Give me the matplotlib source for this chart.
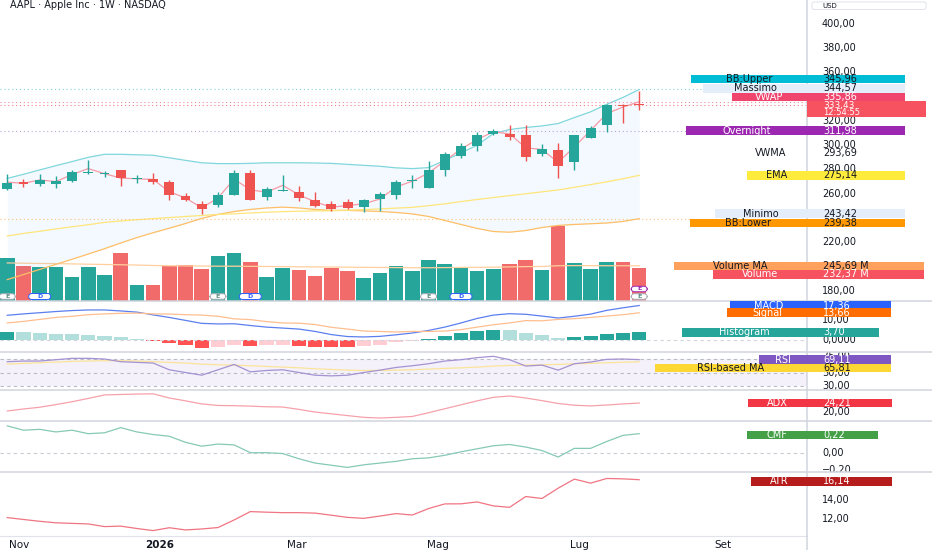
import matplotlib
matplotlib.use("Agg")
import matplotlib.pyplot as plt
import matplotlib.dates as mdates
from matplotlib.patches import Rectangle, FancyBboxPatch
from matplotlib.lines import Line2D
from matplotlib.transforms import IdentityTransform, blended_transform_factory
import numpy as np
import pandas as pd

# weekly AAPL bars
dates = pd.date_range("2025-10-27", periods=40, freq="7D")
opens = [264.2, 270.0, 268.3, 267.8, 270.5, 277.0, 276.0, 279.3, 272.0, 271.9,
         269.7, 258.4, 251.8, 250.4, 259.2, 277.1, 257.3, 262.5, 261.4, 254.5,
         251.1, 252.8, 248.9, 255.8, 258.6, 270.6, 264.9, 279.3, 290.8, 299.4,
         309.0, 309.6, 308.2, 293.0, 296.4, 286.2, 306.3, 316.5, 333.0, 334.2]
highs = [276.6, 272.4, 276.0, 274.4, 279.3, 287.6, 278.8, 279.3, 275.2, 277.1,
         271.1, 260.9, 254.0, 261.4, 279.9, 279.3, 265.6, 275.5, 266.1, 261.4,
         253.9, 255.8, 255.6, 261.3, 271.5, 275.1, 286.7, 294.4, 301.9, 311.0,
         313.7, 316.5, 316.5, 301.3, 301.9, 308.8, 315.9, 334.4, 333.8, 344.57]
lows = [262.8, 265.6, 266.7, 265.0, 270.0, 276.5, 274.0, 266.4, 269.1, 268.3,
        255.1, 254.0, 243.42, 249.0, 258.7, 255.1, 254.5, 262.0, 254.0, 249.0,
        245.6, 247.0, 244.8, 245.6, 255.8, 264.9, 264.5, 274.3, 289.5, 295.0,
        308.2, 304.6, 287.0, 290.8, 273.2, 279.3, 305.8, 311.0, 318.4, 329.4]
closes = [269.1, 267.8, 271.3, 270.5, 278.0, 278.0, 276.8, 273.0, 272.6, 269.7,
          258.7, 254.5, 247.4, 258.7, 277.4, 255.1, 263.6, 263.3, 256.8, 249.6,
          247.0, 248.1, 255.0, 260.0, 269.6, 271.0, 279.3, 292.5, 299.1, 308.2,
          311.5, 306.8, 290.3, 297.2, 282.6, 308.2, 314.5, 333.0, 332.0, 333.43]
volumes = [298, 246, 237, 239, 169, 239, 181, 338, 108, 113,
           242, 249, 221, 313, 338, 272, 169, 228, 216, 176,
           228, 209, 162, 197, 244, 207, 287, 258, 235, 207,
           223, 260, 289, 218, 528, 263, 225, 275, 270, 232.37]  # millions
vol_ma = [266, 264, 262, 261, 259, 257, 255, 253, 251, 248,
          246, 245, 244, 243, 243, 242, 241, 240, 239, 238,
          237, 236, 235, 234, 233, 232, 232, 233, 234, 235,
          236, 238, 240, 241, 246, 247, 247, 246, 246, 245.69]
bb_upper = [272.6, 276.0, 279.6, 283.1, 286.5, 290.0, 292.5, 292.5, 292.1, 291.7,
            289.6, 287.5, 285.5, 284.8, 284.8, 285.0, 285.5, 285.5, 285.5, 285.3,
            285.0, 284.2, 283.4, 282.6, 281.3, 280.7, 281.5, 287.5, 293.6, 300.0,
            309.6, 312.9, 314.6, 315.9, 317.9, 322.8, 327.5, 333.8, 339.4, 345.96]
bb_lower = [189.1, 193.3, 197.5, 201.7, 205.9, 210.2, 214.6, 219.3, 223.8, 227.8,
            231.5, 235.4, 239.6, 242.9, 245.3, 247.0, 248.2, 248.9, 248.2, 247.0,
            246.2, 246.2, 245.8, 245.3, 244.5, 243.3, 241.2, 237.9, 234.6, 231.3,
            228.8, 228.2, 229.6, 232.1, 233.8, 234.6, 235.2, 235.8, 237.1, 239.38]
ema = [225.1, 227.2, 229.0, 230.9, 232.7, 234.4, 236.3, 237.5, 238.5, 239.4,
       240.3, 241.2, 242.0, 242.9, 243.4, 244.1, 244.7, 245.2, 245.5, 245.8,
       245.9, 246.4, 246.8, 247.4, 248.1, 248.7, 250.1, 251.6, 253.5, 255.2,
       256.8, 258.4, 259.9, 261.5, 263.1, 265.3, 267.5, 269.8, 272.3, 275.14]
vwap = [269.5, 268.6, 271.3, 270.0, 275.8, 280.7, 276.5, 272.9, 272.3, 271.7,
        261.6, 256.5, 248.3, 256.4, 272.0, 263.2, 261.2, 266.9, 259.0, 253.3,
        248.8, 250.3, 251.6, 255.6, 265.6, 270.3, 277.0, 287.1, 296.8, 304.7,
        311.1, 309.3, 297.9, 296.4, 285.9, 298.6, 312.2, 326.1, 331.5, 335.86]
macd = [12.4, 13.1, 13.7, 14.3, 14.8, 15.1, 15.1, 14.6, 14.0, 12.6,
        11.3, 9.8, 8.3, 8.0, 8.1, 7.2, 6.4, 5.9, 5.4, 4.2,
        2.6, 1.6, 1.4, 1.7, 2.5, 3.4, 4.7, 6.4, 8.5, 10.8,
        12.5, 13.2, 12.9, 12.0, 11.0, 11.9, 13.0, 14.9, 16.2, 17.36]
signal = [8.5, 9.3, 10.3, 11.3, 11.9, 12.7, 13.1, 13.4, 13.5, 13.1,
          13.0, 12.7, 12.5, 11.9, 10.6, 10.2, 9.2, 8.5, 8.4, 7.7,
          6.3, 5.4, 4.4, 4.2, 3.9, 4.2, 4.2, 4.4, 5.1, 6.4,
          7.6, 8.5, 9.7, 9.6, 10.3, 10.7, 11.3, 12.0, 12.7, 13.66]
hist = [3.9, 3.8, 3.4, 3.0, 2.9, 2.4, 2.0, 1.2, 0.5, -0.5,
        -1.7, -2.9, -4.2, -3.9, -2.5, -3.0, -2.8, -2.6, -3.0, -3.5,
        -3.7, -3.8, -3.0, -2.5, -1.4, -0.8, 0.5, 2.0, 3.4, 4.4,
        4.9, 4.7, 3.2, 2.4, 0.7, 1.2, 1.7, 2.9, 3.5, 3.70]
rsi = [66, 67, 67, 69, 71, 71, 70, 66, 65, 64,
       54, 50, 46, 54, 62, 51, 53, 54, 50, 46,
       45, 46, 50, 53.5, 57.5, 60, 63, 67, 69, 72,
       74, 69, 59.5, 61, 53.5, 63, 65.5, 69.5, 70, 69.11]
rsi_ma = [62.5, 63.5, 64.5, 65.5, 66.5, 67, 67.5, 67.5, 67, 66,
          65, 64, 62.5, 61.5, 61, 60, 59, 58, 57, 55.5,
          54.5, 53.5, 53, 53, 53.5, 54, 55, 56, 57, 58,
          59.5, 60.5, 61, 61.5, 62, 63, 63.5, 64.5, 65.2, 65.81]
adx = [20.6, 21.5, 22.3, 23.5, 24.8, 26.3, 27.9, 28.1, 28.3, 28.4,
       26.5, 25.2, 23.8, 23.1, 23.0, 22.8, 22.5, 22.4, 21.3, 20.1,
       19.3, 18.5, 17.7, 17.4, 17.7, 18.1, 19.8, 21.6, 23.4, 25.2,
       26.8, 27.4, 26.5, 25.3, 24.0, 23.2, 22.9, 23.3, 23.8, 24.21]
cmf = [0.31, 0.26, 0.27, 0.24, 0.26, 0.22, 0.23, 0.29, 0.24, 0.21,
       0.19, 0.12, 0.075, 0.10, 0.09, 0.00, 0.00, -0.01, -0.07, -0.12,
       -0.145, -0.17, -0.14, -0.12, -0.10, -0.07, -0.06, -0.03, 0.01, 0.045,
       0.08, 0.095, 0.065, 0.025, -0.05, 0.05, 0.05, 0.13, 0.20, 0.22]
atr = [12.15, 11.95, 11.76, 11.6, 11.54, 11.48, 11.2, 11.25, 11.0, 10.78,
       11.08, 10.85, 10.95, 11.1, 11.9, 12.78, 12.72, 12.67, 12.67, 12.62,
       12.4, 12.17, 12.07, 12.31, 12.57, 12.42, 13.1, 13.59, 13.6, 13.8,
       13.38, 13.23, 14.37, 14.16, 15.25, 16.2, 15.78, 16.27, 16.23, 16.14]
earnings_idx = [0, 13, 26, 39]
dividend_idx = [2, 15, 28]
overnight = 311.98
vwma_last = 293.69
month_ticks = ["2025-11-01", "2026-01-01", "2026-03-01", "2026-05-01", "2026-07-01", "2026-09-01"]
month_labels = ["Nov", "2026", "Mar", "Mag", "Lug", "Set"]

W, H = 932, 550
CW = 807  # width of the plotting area, right of it is the price scale
UP, DOWN = "#26A69A", "#EF5350"
TXT = "#131722"
SEP = "#D1D4DC"
FS = 7

plt.rcParams["font.family"] = ["DejaVu Sans"]

fig = plt.figure(figsize=(W / 100, H / 100), dpi=100)
fig.patch.set_facecolor("white")
px = IdentityTransform()


def rect(top, bottom):
    return [0, (H - bottom) / H, CW / W, (bottom - top) / H]


def fmt(v):
    return f"{v:.2f}".replace(".", ",").replace("-", "\u2212")


x = mdates.date2num(dates)
o, h, l, c = map(np.array, (opens, highs, lows, closes))
cols = [UP if cc >= oo else DOWN for oo, cc in zip(o, c)]

# ---- main pane: volume underneath, candles + overlays on top
vax = fig.add_axes(rect(0, 300.7))
ax = fig.add_axes(rect(0, 300.7), sharex=vax)
ax.patch.set_alpha(0)
vax.bar(x, volumes, width=6.3, color=["#26A69A" if cc == UP else "#F26B6B" for cc in cols], lw=0)
vax.plot(x, vol_ma, color="#FFCF9E", lw=0.9)
vax.set_ylim(0, 300.7 * 7.04)

ax.fill_between(x, bb_lower, bb_upper, color="#2196F3", alpha=0.05, lw=0)
ax.plot(x, bb_upper, color="#80D6DD", lw=0.9)
ax.plot(x, bb_lower, color="#FFBF66", lw=0.9)
ax.plot(x, ema, color="#FFE57A", lw=0.9)
ax.plot(x, vwap, color="#F59AA6", lw=0.9)
ax.vlines(x, l, h, colors=cols, lw=1.0, zorder=3)
ax.bar(x, np.maximum(np.abs(c - o), 0.6), bottom=np.minimum(o, c), width=4.3,
       color=cols, lw=0, zorder=4)
dot = (0, (1, 2.5))
ax.axhline(bb_upper[-1], color="#7FD3DA", lw=0.8, ls=dot)
ax.axhline(vwap[-1], color="#F48BA0", lw=0.8, ls=dot)
ax.axhline(closes[-1], color="#F57F86", lw=0.8, ls=dot)
ax.axhline(overnight, color="#B9A3DD", lw=0.8, ls=dot)
ax.axhline(bb_lower[-1], color="#FFC27A", lw=0.8, ls=dot)
ax.set_xlim(x[0] - 3.15, x[0] + 345.5)
ax.set_ylim(171.7, 419.8)

# ---- MACD
axm = fig.add_axes(rect(300.7, 352), sharex=vax)
hcols = []
for i, v in enumerate(hist):
    prev = hist[i - 1] if i else None
    if v >= 0:
        hcols.append("#26A69A" if prev is None or v >= prev else "#B2DFDB")
    else:
        hcols.append("#FF5252" if prev is None or v < prev else "#FFCDD2")
axm.bar(x, hist, width=6.1, color=hcols, lw=0)
axm.axhline(0, color="#D1D4DC", lw=0.8, ls=(0, (3, 3)))
axm.plot(x, macd, color="#5C7FEF", lw=0.9)
axm.plot(x, signal, color="#FFBE8F", lw=0.9)
axm.set_ylim(-6.24, 19.8)

# ---- RSI
axr = fig.add_axes(rect(352, 389.5), sharex=vax)
axr.axhspan(30, 70, color="#7E57C2", alpha=0.08, lw=0)
for lvl in (70, 50, 30):
    axr.axhline(lvl, color="#B8BBC4", lw=0.8, ls=(0, (3, 3)))
axr.plot(x, rsi_ma, color="#FBE49A", lw=0.9)
axr.plot(x, rsi, color="#A592D2", lw=0.9)
axr.set_ylim(24.8, 80.4)

# ---- ADX
axa = fig.add_axes(rect(389.5, 421.3), sharex=vax)
axa.plot(x, adx, color="#F6A1AA", lw=0.9)
axa.set_ylim(15.9, 30.36)

# ---- CMF
axc = fig.add_axes(rect(421.3, 472.3), sharex=vax)
axc.axhline(0, color="#C9CCD4", lw=0.8, ls=(0, (3, 3)))
axc.plot(x, cmf, color="#86C9B6", lw=0.9)
axc.set_ylim(-0.2266, 0.363)

# ---- ATR
axt = fig.add_axes(rect(472.3, 536), sharex=vax)
axt.plot(x, atr, color="#F07482", lw=0.9)
axt.set_ylim(10.21, 16.92)

for a in (vax, ax, axm, axr, axa, axc):
    a.axis("off")
for s in ("top", "left", "right"):
    axt.spines[s].set_visible(False)
axt.spines["bottom"].set_color("#E0E3EB")
axt.set_yticks([])
axt.set_xticks(mdates.date2num(pd.to_datetime(month_ticks)))
axt.set_xticklabels(month_labels)
axt.tick_params(axis="x", length=0, pad=3, labelsize=7.5, labelcolor=TXT)
for t in axt.get_xticklabels():
    if t.get_text().isdigit():
        t.set_fontweight("bold")


# ---- price scale tick texts (clipped to each pane)
def right_ticks(pane, ticks, labels):
    pos = pane.get_position()
    rax = fig.add_axes([CW / W, pos.y0, (W - CW) / W, pos.height])
    rax.set_ylim(pane.get_ylim())
    rax.axis("off")
    tr = blended_transform_factory(rax.transAxes, rax.transData)
    for v, s in zip(ticks, labels):
        rax.text(15 / (W - CW), v, s, transform=tr, ha="left", va="center",
                 fontsize=FS, color=TXT, clip_on=True)


# ticks that sit fully under a value tag in the screenshot are left out
price_ticks = [400, 380, 360, 320, 300, 280, 260, 220, 180]
right_ticks(ax, price_ticks, [fmt(v) for v in price_ticks])
right_ticks(axm, [10, 0], ["10,00", "0,0000"])
right_ticks(axr, [75, 50, 30], [fmt(v) for v in (75, 50, 30)])
right_ticks(axa, [20], ["20,00"])
right_ticks(axc, [0.0, -0.2], [fmt(v) for v in (0.0, -0.2)])
right_ticks(axt, [14, 12], [fmt(v) for v in (14, 12)])


# ---- value tags on the price scale
def tag(pane, v, name, value, bg, fg, left, right, dy=0.0, nbg=None, nfg=None, hh=8.6):
    yc = pane.transData.transform((x[0], v))[1] - dy
    nbg = nbg if nbg is not None else bg
    nfg = nfg or fg
    if nbg:
        fig.add_artist(Rectangle((left, yc - hh / 2), CW - left, hh, transform=px,
                                 facecolor=nbg, edgecolor="none", zorder=10))
    if bg:
        fig.add_artist(Rectangle((CW, yc - hh / 2), right - CW, hh, transform=px,
                                 facecolor=bg, edgecolor="none", zorder=10))
    fig.text((left + CW) / 2, yc, name, transform=px, ha="center", va="center",
             fontsize=FS, color=nfg, zorder=11)
    fig.text(CW + 16, yc, value, transform=px, ha="left", va="center",
             fontsize=FS, color=fg, zorder=11)


tag(ax, bb_upper[-1], "BB:Upper", fmt(bb_upper[-1]), "#00BCD4", TXT, 690.7, 905, dy=-10.3)
tag(ax, max(highs), "Massimo", fmt(max(highs)), "#E3EEFA", TXT, 703, 905, dy=-2.9)
tag(ax, vwap[-1], "VWAP", fmt(vwap[-1]), "#F0466E", "white", 731.7, 905, dy=-4.7)
tag(ax, overnight, "Overnight", fmt(overnight), "#9C27B0", "white", 686, 905)
tag(ax, vwma_last, "VWMA", fmt(vwma_last), None, TXT, 735, 905)
tag(ax, ema[-1], "EMA", fmt(ema[-1]), "#FFEB3B", TXT, 747, 905)
tag(ax, min(lows), "Minimo", fmt(min(lows)), "#E3EEFA", TXT, 715, 905)
tag(ax, bb_lower[-1], "BB:Lower", fmt(bb_lower[-1]), "#FF9800", TXT, 689.7, 905, dy=4.5)
tag(vax, vol_ma[-1], "Volume MA", fmt(vol_ma[-1]) + " M", "#FFA05C", TXT, 674, 924)
tag(vax, volumes[-1], "Volume", fmt(volumes[-1]) + " M", "#F7525F", "white", 712.7, 924, dy=6.6)
tag(axm, macd[-1], "MACD", fmt(macd[-1]), "#2962FF", "white", 730, 891)
tag(axm, signal[-1], "Signal", fmt(signal[-1]), "#FF6D00", "white", 727, 891)
tag(axm, hist[-1], "Histogram", fmt(hist[-1]), "#26A69A", "white", 682, 879)
tag(axr, rsi[-1], "RSI", fmt(rsi[-1]), "#7E57C2", "white", 759, 891)
tag(axr, rsi_ma[-1], "RSI-based MA", fmt(rsi_ma[-1]), "#FDD835", TXT, 655, 891, dy=6.2)
tag(axa, adx[-1], "ADX", fmt(adx[-1]), "#F23645", "white", 748, 892)
tag(axc, cmf[-1], "CMF", fmt(cmf[-1]), "#43A047", "white", 747, 878, dy=1.5)
tag(axt, atr[-1], "ATR", fmt(atr[-1]), "#B71C1C", "white", 750.7, 892, dy=1.5)

# last price box with countdown
yc = ax.transData.transform((x[0], closes[-1]))[1] - 4.3
fig.add_artist(Rectangle((CW, yc - 8), 926 - CW, 16, transform=px,
                         facecolor="#F7525F", edgecolor="none", zorder=10))
fig.text(CW + 16, yc + 3.7, fmt(closes[-1]), transform=px, ha="left", va="center",
         fontsize=6.5, color="white", zorder=11)
fig.text(CW + 16, yc - 3.9, "12:54:55", transform=px, ha="left", va="center",
         fontsize=6, color="white", zorder=11)


# ---- earnings / dividend pills at the bottom of the main pane
def pill(i, letter, edge, tcolor, yimg, wpx, hpx):
    xd = ax.transData.transform((x[i], 0))[0]
    yd = H - yimg
    fig.add_artist(FancyBboxPatch((xd - wpx / 2, yd - hpx / 2), wpx, hpx,
                                  boxstyle="round,pad=0,rounding_size=3", transform=px,
                                  facecolor="white", edgecolor=edge, lw=0.7, zorder=6))
    fig.text(xd, yd, letter, transform=px, ha="center", va="center", fontsize=4.5,
             color=tcolor, fontweight="bold", zorder=7)


for i in earnings_idx:
    pill(i, "E", "#A9ACB5", "#5E8F89", 296.5, 16, 5.5)
for i in dividend_idx:
    pill(i, "D", "#2962FF", "#2962FF", 296.5, 22, 6)
pill(earnings_idx[-1], "E", "#9C27B0", "#9C27B0", 289, 16, 5.5)

# ---- separators
for yimg in (300.7, 352, 389.5, 421.3, 472.3):
    fig.add_artist(Line2D([0, W], [H - yimg, H - yimg], transform=px, color=SEP, lw=1.1, zorder=5))
fig.add_artist(Line2D([CW, CW], [0, H], transform=px, color=SEP, lw=1.1, zorder=5))

# header + currency box
fig.text(10, H - 4.5, "AAPL \u00b7 Apple Inc \u00b7 1W \u00b7 NASDAQ", transform=px,
         ha="left", va="center", fontsize=7, color=TXT)
fig.add_artist(FancyBboxPatch((812, H - 9.5), 114, 7.5, boxstyle="round,pad=0,rounding_size=2",
                              transform=px, facecolor="white", edgecolor="#E0E3EB", lw=0.7, zorder=6))
fig.text(822, H - 5.8, "USD", transform=px, ha="left", va="center", fontsize=5, color=TXT, zorder=7)

fig.savefig("out.png", dpi=100)
